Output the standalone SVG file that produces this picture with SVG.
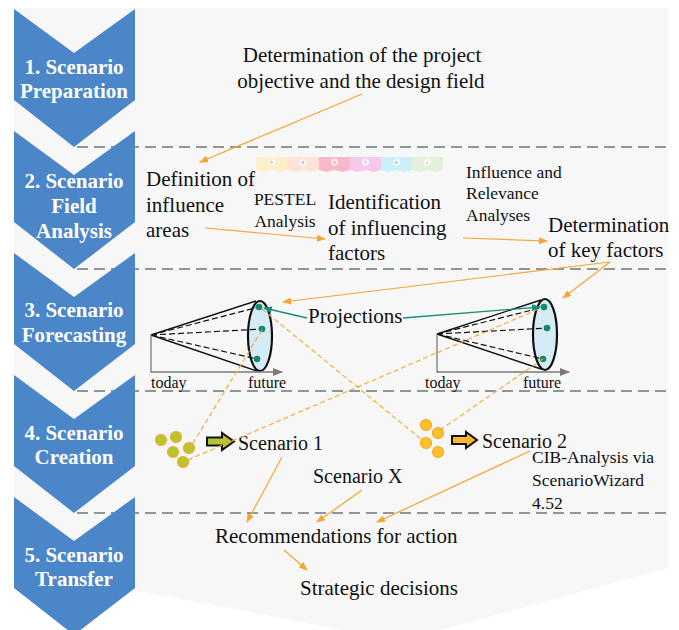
<svg xmlns="http://www.w3.org/2000/svg" width="679" height="630" viewBox="0 0 679 630">
<style>
.chev{fill:#4a86c8}
.ct{font-family:"Liberation Serif",serif;font-weight:bold;font-size:21px;fill:#fff;text-anchor:middle}
.t{font-family:"Liberation Serif",serif;font-size:21px;fill:#111}
.ts{font-family:"Liberation Serif",serif;font-size:17.5px;fill:#111}
.tx{font-family:"Liberation Serif",serif;font-size:16px;fill:#111}
.sep{stroke:#8e9696;stroke-width:2.2;stroke-dasharray:11 6;fill:none}
.oa{stroke:#f6a531;stroke-width:1.2;fill:none;marker-end:url(#ah)}
.od{stroke:#f6a531;stroke-width:1.1;fill:none;stroke-dasharray:5 3}
.ta{stroke:#17907a;stroke-width:1.3;fill:none;marker-end:url(#th)}
.cs{stroke:#111;stroke-width:1.4;fill:none}
.cd{stroke:#111;stroke-width:1.2;fill:none;stroke-dasharray:6 3}
.ax{stroke:#7a7a7a;stroke-width:1.3;fill:none;marker-end:url(#gh)}
.ell{fill:#d5ebf6;stroke:#111;stroke-width:2.2}
.dot{fill:#138a6e}
.s1{fill:#b9c62b;stroke:#f6a531;stroke-width:1.2}
.s2{fill:#ffc02a;stroke:#f6a531;stroke-width:1.2}
.tab{stroke:none}
.tl{font-family:"Liberation Sans",sans-serif;font-size:4px;fill:#888;text-anchor:middle}
</style>
<defs>
<marker id="ah" markerUnits="userSpaceOnUse" markerWidth="9" markerHeight="7" refX="8" refY="3.5" orient="auto"><path d="M0,0 L9,3.5 L0,7 Z" fill="#f6a531"/></marker>
<marker id="th" markerUnits="userSpaceOnUse" markerWidth="9" markerHeight="7" refX="8" refY="3.5" orient="auto"><path d="M0,0 L9,3.5 L0,7 Z" fill="#17907a"/></marker>
<marker id="gh" markerUnits="userSpaceOnUse" markerWidth="10" markerHeight="8" refX="9" refY="4" orient="auto"><path d="M0,0 L10,4 L0,8 Z" fill="#7a7a7a"/></marker>
</defs>
<rect width="679" height="630" fill="#fff"/>
<path d="M14,8 H668 V568 L400,641 L135,590 L14,590 Z" fill="#f7f7f7"/>
<g id="separators">
<line class="sep" x1="77" y1="147" x2="668" y2="147"/>
<line class="sep" x1="77" y1="269" x2="668" y2="269"/>
<line class="sep" x1="77" y1="391" x2="668" y2="391"/>
<line class="sep" x1="77" y1="513" x2="668" y2="513"/>
</g>
<g id="phase1"><path class="chev" d="M14,9 L74,53 L135,9 L135,100 L74,147 L14,100 Z"/><text class="ct" x="74" y="74">1. Scenario</text><text class="ct" x="74" y="98">Preparation</text></g>
<g id="phase2"><path class="chev" d="M14,131 L74,175 L135,131 L135,222 L74,269 L14,222 Z"/><text class="ct" x="74" y="188">2. Scenario</text><text class="ct" x="74" y="213">Field</text><text class="ct" x="74" y="238">Analysis</text></g>
<g id="phase3"><path class="chev" d="M14,253 L74,297 L135,253 L135,344 L74,391 L14,344 Z"/><text class="ct" x="74" y="317">3. Scenario</text><text class="ct" x="74" y="342">Forecasting</text></g>
<g id="phase4"><path class="chev" d="M14,375 L74,419 L135,375 L135,466 L74,513 L14,466 Z"/><text class="ct" x="74" y="440">4. Scenario</text><text class="ct" x="74" y="464">Creation</text></g>
<g id="phase5"><path class="chev" d="M14,497 L74,541 L135,497 L135,588 L74,635 L14,588 Z"/><text class="ct" x="74" y="562">5. Scenario</text><text class="ct" x="74" y="586">Transfer</text></g>

<g id="objective"><text class="t" x="362" y="62" text-anchor="middle">Determination of the project</text><text class="t" x="361" y="88" text-anchor="middle">objective and the design field</text></g>
<g id="influence-areas"><text class="t" x="146" y="186">Definition of</text><text class="t" x="146" y="212">influence</text><text class="t" x="146" y="237">areas</text></g>
<g id="pestel">
<path class="tab" fill="#fdf0c9" d="M256,157 H287 V170 L280,172 L271,170 L263,172 L256,170 Z"/>
<path class="tab" fill="#fde3d8" d="M287,157 H319 V170 L311,172 L303,170 L295,172 L287,170 Z"/>
<path class="tab" fill="#f9b9ca" d="M319,157 H350 V170 L343,172 L334,170 L326,172 L319,170 Z"/>
<path class="tab" fill="#f6c8ee" d="M350,157 H381 V170 L374,172 L365,170 L357,172 L350,170 Z"/>
<path class="tab" fill="#c9f0f8" d="M381,157 H412 V170 L405,172 L396,170 L388,172 L381,170 Z"/>
<path class="tab" fill="#e3f0dc" d="M412,157 H443 V170 L436,172 L427,170 L419,172 L412,170 Z"/>
<g fill="#fff" opacity="0.75"><circle cx="271.5" cy="162" r="3.5"/><circle cx="303" cy="162" r="3.5"/><circle cx="334.5" cy="162" r="3.5"/><circle cx="365.5" cy="162" r="3.5"/><circle cx="396.5" cy="162" r="3.5"/><circle cx="427.5" cy="162" r="3.5"/></g>
<text class="tl" x="271.5" y="163.5">P</text><text class="tl" x="303" y="163.5">E</text><text class="tl" x="334.5" y="163.5">S</text><text class="tl" x="365.5" y="163.5">T</text><text class="tl" x="396.5" y="163.5">E</text><text class="tl" x="427.5" y="163.5">L</text>
<text class="ts" x="285" y="205" text-anchor="middle">PESTEL</text><text class="ts" x="285" y="227" text-anchor="middle">Analysis</text>
</g>
<g id="factors"><text class="t" x="328" y="209">Identification</text><text class="t" x="328" y="235">of influencing</text><text class="t" x="328" y="260">factors</text></g>
<g id="relevance"><text class="ts" x="466" y="178">Influence  and</text><text class="ts" x="466" y="199">Relevance</text><text class="ts" x="466" y="221">Analyses</text></g>
<g id="key-factors"><text class="t" x="548" y="232">Determination</text><text class="t" x="548" y="257">of key factors</text></g>

<g id="cone-left">
<ellipse class="ell" cx="260" cy="336" rx="12" ry="35"/>
<path class="cs" d="M151,335 L256,301 M151,335 L257,371"/>
<path class="cd" d="M151,335 L259,307 M151,335 L262,329 M151,335 L257,359"/>
<circle class="dot" cx="259" cy="307" r="3.3"/><circle class="dot" cx="262" cy="329" r="3.3"/><circle class="dot" cx="257" cy="359" r="3.3"/>
<path class="ax" d="M151,335 V372 H282"/>
<text class="tx" x="151" y="388">today</text><text class="tx" x="248" y="388">future</text>
</g>
<g id="cone-right">
<ellipse class="ell" cx="545" cy="334.5" rx="12" ry="35.5"/>
<path class="cs" d="M437,334 L541,300 M437,334 L541,369"/>
<path class="cd" d="M437,334 L544,307 M437,334 L547,328 M437,334 L543,359"/>
<circle class="dot" cx="544" cy="307" r="3.3"/><circle class="dot" cx="547" cy="328" r="3.3"/><circle class="dot" cx="543" cy="359" r="3.3"/>
<path class="ax" d="M437,334 V372 H569"/>
<text class="tx" x="425" y="388">today</text><text class="tx" x="523" y="388">future</text>
</g>
<g id="projections"><text class="t" x="308" y="323">Projections</text></g>

<g id="scenario1">
<circle class="s1" cx="161" cy="440" r="5.5"/><circle class="s1" cx="176" cy="437" r="5.5"/><circle class="s1" cx="173" cy="452" r="5.5"/><circle class="s1" cx="189" cy="448" r="5.5"/><circle class="s1" cx="183" cy="462" r="5.5"/>
<path d="M207,437.5 H222 V433 L234,441.5 L222,450 V445.5 H207 Z" fill="#b5c334" stroke="#111" stroke-width="2" stroke-linejoin="miter"/>
<text class="t" x="238" y="450" style="font-size:20px">Scenario 1</text>
</g>
<g id="scenario2">
<circle class="s2" cx="426" cy="425" r="5.5"/><circle class="s2" cx="438" cy="433" r="5.5"/><circle class="s2" cx="426" cy="443" r="5.5"/><circle class="s2" cx="438" cy="452" r="5.5"/>
<path d="M452,436 H466 V432 L477,440 L466,448 V444 H452 Z" fill="#fbb92c" stroke="#111" stroke-width="2"/>
<text class="t" x="482" y="448" style="font-size:20px">Scenario 2</text>
</g>
<g id="scenarioX"><text class="t" x="313" y="483" style="font-size:20px">Scenario X</text></g>
<g id="cib"><text class="ts" x="532" y="463">CIB-Analysis via</text><text class="ts" x="532" y="486">ScenarioWizard</text><text class="ts" x="532" y="509">4.52</text></g>
<g id="recommendations"><text class="t" x="215" y="543">Recommendations for action</text></g>
<g id="decisions"><text class="t" x="300" y="595">Strategic decisions</text></g>

<g id="connectors">
<line class="oa" x1="362" y1="94" x2="200" y2="162"/>
<line class="oa" x1="205" y1="228" x2="325" y2="239"/>
<line class="oa" x1="463" y1="238" x2="547" y2="241"/>
<line class="oa" x1="610" y1="262" x2="283" y2="302"/>
<line class="oa" x1="610" y1="262" x2="563" y2="298"/>
<line class="ta" x1="307" y1="318" x2="264" y2="308"/>
<line class="ta" x1="403" y1="318" x2="540" y2="307"/>
<line class="od" x1="262" y1="309" x2="422" y2="440"/>
<line class="od" x1="262" y1="330" x2="190" y2="448"/>
<line class="od" x1="188" y1="460" x2="541" y2="308"/>
<line class="od" x1="440" y1="430" x2="543" y2="359"/>
<line class="oa" x1="282" y1="457" x2="247" y2="522"/>
<line class="oa" x1="362" y1="490" x2="317" y2="522"/>
<line class="oa" x1="530" y1="451" x2="377" y2="522"/>
<line class="oa" x1="284" y1="550" x2="307" y2="570"/>
</g>
</svg>
